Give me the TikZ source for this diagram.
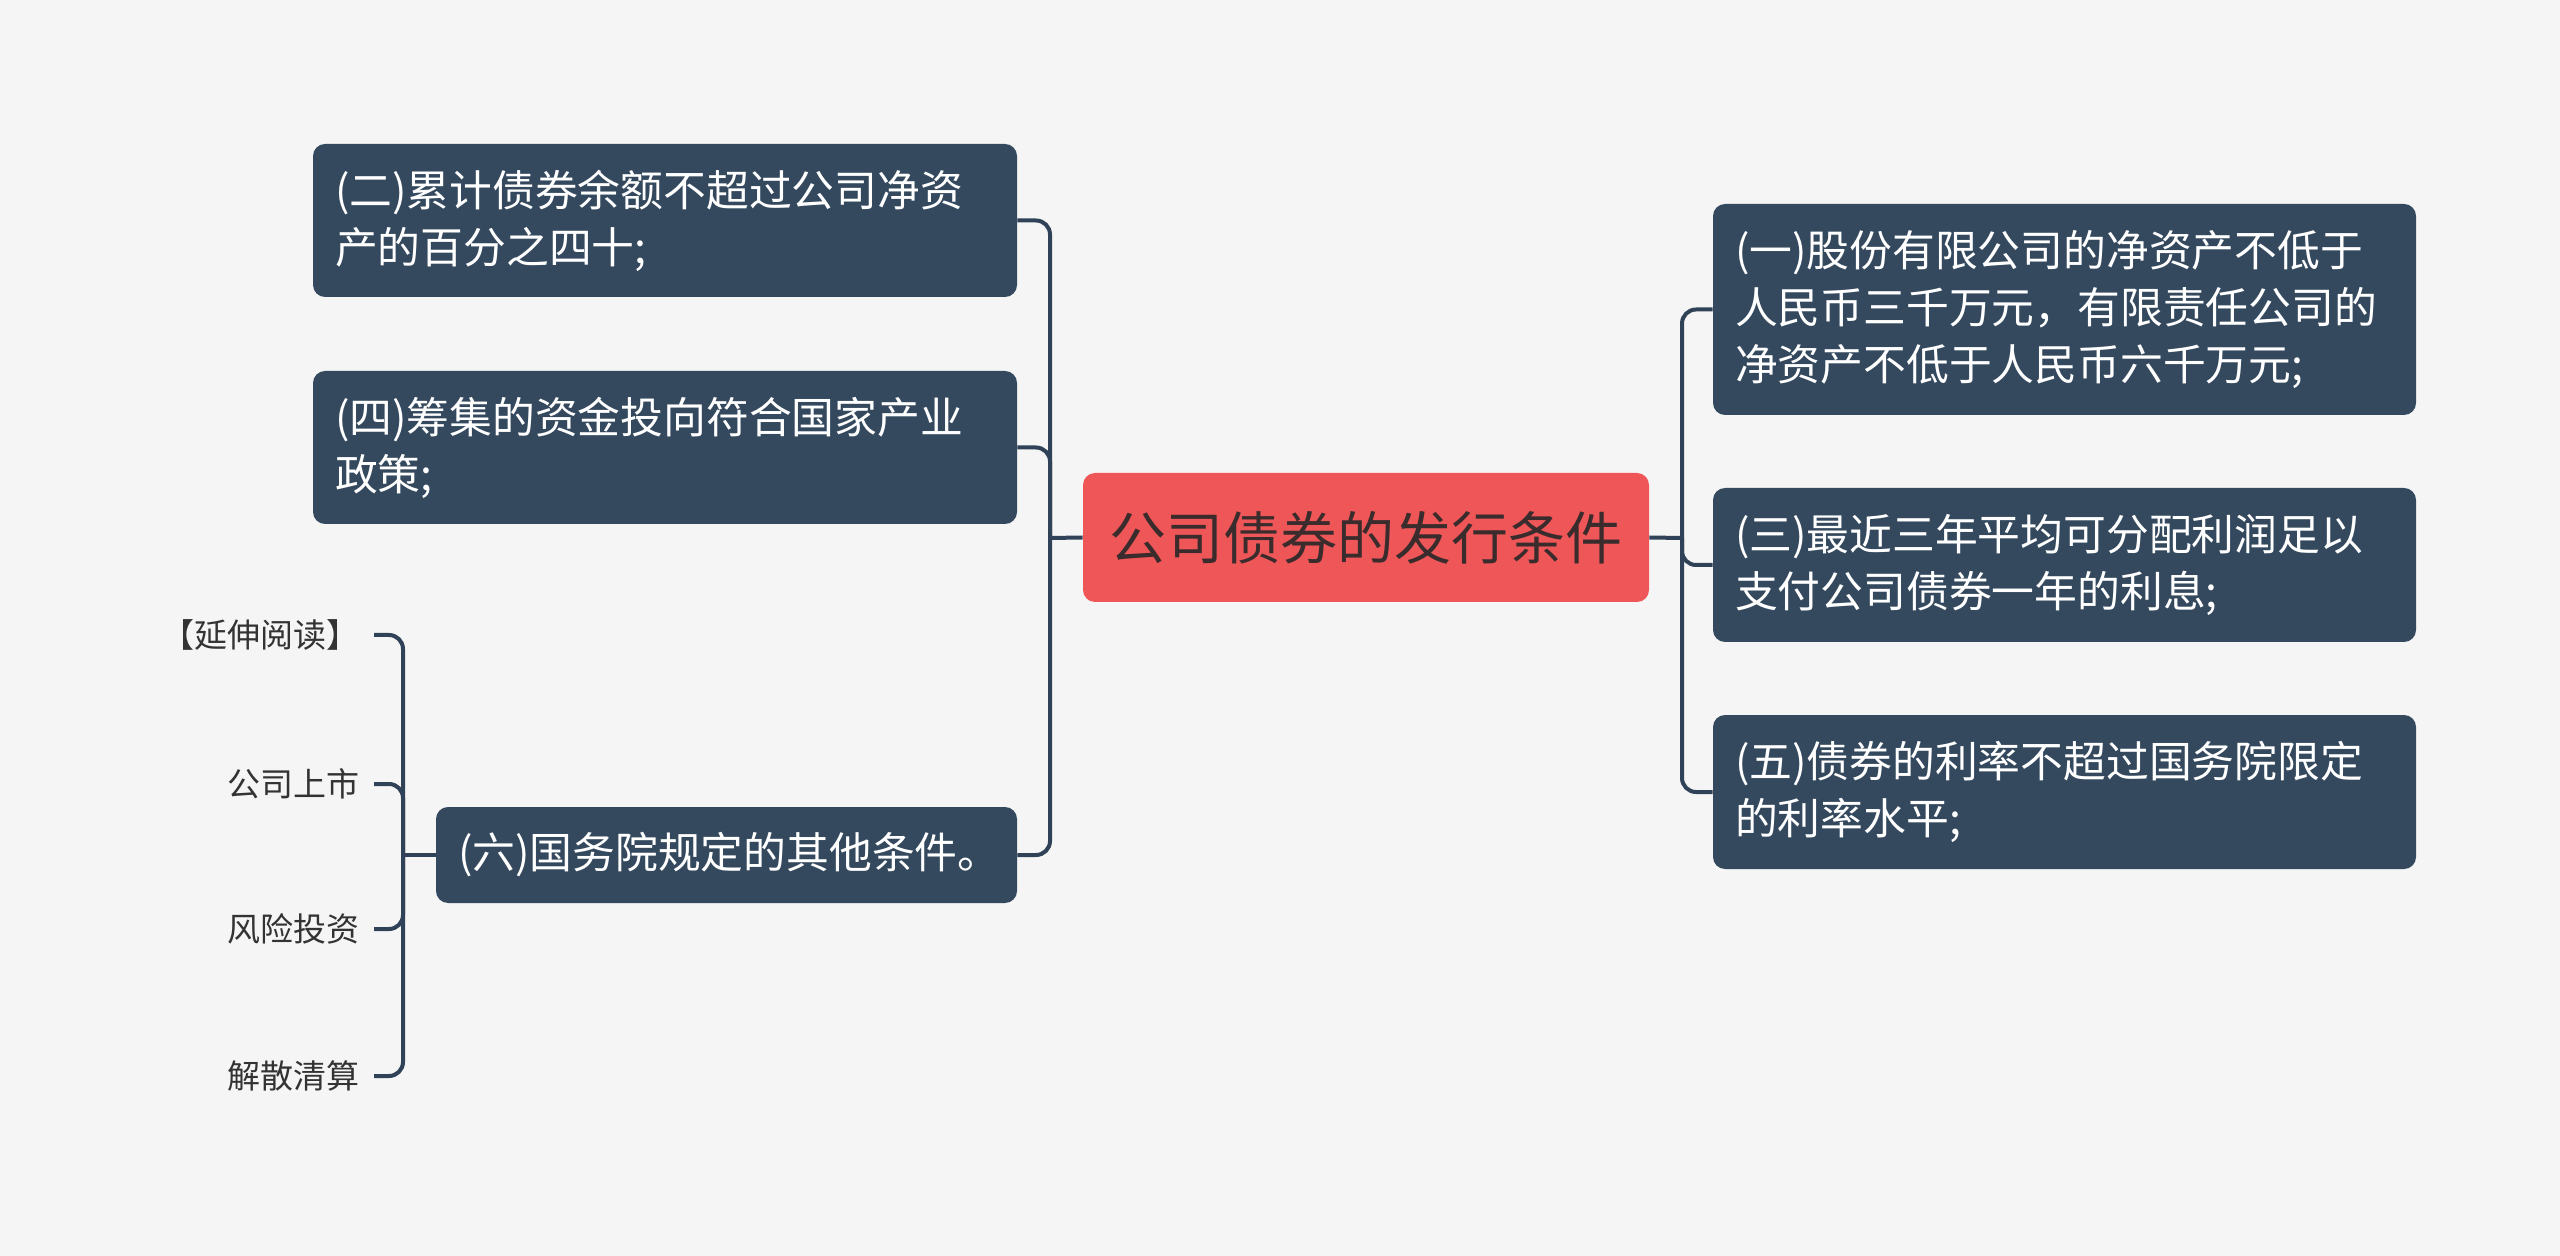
\documentclass[tikz,border=0pt]{standalone}
\usepackage{fontspec}
\setmainfont{Noto Sans CJK SC}
\definecolor{bg}{HTML}{F5F5F5}
\definecolor{boxc}{HTML}{34495E}
\definecolor{linec}{HTML}{2F4257}
\definecolor{rootc}{HTML}{EF5658}
\definecolor{roottxt}{HTML}{3A2B2C}
\definecolor{subtxt}{HTML}{333333}
\begin{document}
\begin{tikzpicture}[x=0.5pt,y=-0.5pt,
  topic/.style={draw=none,fill=boxc,rounded corners=6pt,text=white,
    font=\fontsize{21.4}{28.5}\selectfont,align=left,inner xsep=11pt,inner ysep=0pt},
  rootbox/.style={fill=rootc,rounded corners=6pt,text=roottxt,
    font=\fontsize{28.5}{34}\selectfont,minimum width=283pt,minimum height=64.5pt,inner sep=0pt},
  sub/.style={text=subtxt,font=\fontsize{16.5}{20}\selectfont,inner xsep=7pt,inner ysep=0pt,anchor=east},
  conn/.style={draw=linec,line width=2pt,rounded corners=7pt}]
\useasboundingbox (0,0) rectangle (2560,1256);
\fill[bg] (0,0) rectangle (2560,1256);

\node[rootbox] (root) at (1366,537.5) {公司债券的发行条件};

\node[topic,text width=330pt,minimum width=352pt,minimum height=76.5pt] (b2) at (665,220.5)
  {(二)累计债券余额不超过公司净资\\产的百分之四十;};
\node[topic,text width=330pt,minimum width=352pt,minimum height=76.5pt] (b4) at (665,447.5)
  {(四)筹集的资金投向符合国家产业\\政策;};
\node[topic,text width=268.5pt,minimum width=290.5pt,minimum height=48pt] (b6) at (726.5,855)
  {(六)国务院规定的其他条件。};

\node[topic,text width=329.5pt,minimum width=351.5pt,minimum height=105.5pt] (r1) at (2064.5,309.5)
  {(一)股份有限公司的净资产不低于\\人民币三千万元，有限责任公司的\\净资产不低于人民币六千万元;};
\node[topic,text width=329.5pt,minimum width=351.5pt,minimum height=77pt] (r3) at (2064.5,565)
  {(三)最近三年平均可分配利润足以\\支付公司债券一年的利息;};
\node[topic,text width=329.5pt,minimum width=351.5pt,minimum height=77pt] (r5) at (2064.5,792)
  {(五)债券的利率不超过国务院限定\\的利率水平;};

\node[sub] (s1) at (374,635) {【延伸阅读】};
\node[sub] (s2) at (374,784) {公司上市};
\node[sub] (s3) at (374,929) {风险投资};
\node[sub] (s4) at (374,1076) {解散清算};

\coordinate (lj) at (1050,538);
\coordinate (rj) at (1682,538);
\coordinate (sj) at (403,855);

\draw[conn] (root.west) -- (lj);
\draw[conn] (b2.east) -| (lj);
\draw[conn] (b4.east) -| (lj);
\draw[conn] (b6.east) -| (lj);

\draw[conn] (root.east) -- (rj);
\draw[conn] (r1.west) -| (rj);
\draw[conn] (r3.west) -| (rj);
\draw[conn] (r5.west) -| (rj);

\draw[conn] (b6.west) -- (sj);
\draw[conn] (s1.east) -| (sj);
\draw[conn] (s2.east) -| (sj);
\draw[conn] (s3.east) -| (sj);
\draw[conn] (s4.east) -| (sj);
\end{tikzpicture}
\end{document}
